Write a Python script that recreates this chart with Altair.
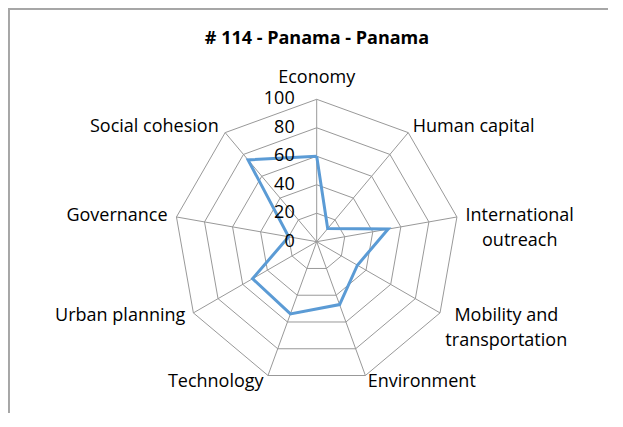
import altair as alt
import pandas as pd

# ---- data ----
categories = ["Economy", "Human capital", "International\noutreach",
              "Mobility and\ntransportation", "Environment", "Technology",
              "Urban planning", "Governance", "Social cohesion"]
scores = [60, 12, 51, 33, 47, 54, 52, 20, 75]
tick_values = [0, 20, 40, 60, 80, 100]
ring_levels = [20, 40, 60, 80, 100]
title_text = "# 114 - Panama - Panama"

# ---- layout ----
W, H = 600, 405
CX, CY = 308.7, 233.7     # radar centre inside plot area (px)
R = 142.4                 # radius of the 100 ring (px)
PPU = R / 100.0
FONT = "Open Sans"
GRID = "#999999"

n = len(categories)
xscale = alt.Scale(domain=[-CX / PPU, (W - CX) / PPU], nice=False, zero=False)
yscale = alt.Scale(domain=[-(H - CY) / PPU, CY / PPU], nice=False, zero=False)
X = lambda f: alt.X(f, scale=xscale, axis=None)
Y = lambda f: alt.Y(f, scale=yscale, axis=None)

ANG = f"datum.idx * 2 * PI / {n}"

series_df = pd.DataFrame({
    "idx": [i % n for i in range(n + 1)],
    "order": list(range(n + 1)),
    "value": [scores[i % n] for i in range(n + 1)],
})
rings_df = pd.DataFrame([
    {"idx": k % n, "order": k, "level": lv}
    for lv in ring_levels for k in range(n + 1)
])
spokes_df = pd.DataFrame({"idx": list(range(n)), "level": [100] * n})
labels_df = pd.DataFrame({
    "idx": list(range(n)),
    "label": categories,
    "nlines": [c.count("\n") + 1 for c in categories],
    "maxlen": [max(len(p) for p in c.split("\n")) for c in categories],
})
ticks_df = pd.DataFrame({"value": tick_values})

rings = alt.Chart(rings_df).transform_calculate(
    a=ANG
).transform_calculate(
    x="datum.level * sin(datum.a)", y="datum.level * cos(datum.a)"
).mark_line(color=GRID, strokeWidth=1).encode(
    x=X("x:Q"), y=Y("y:Q"), detail="level:N", order="order:O"
)

spokes = alt.Chart(spokes_df).transform_calculate(
    a=ANG
).transform_calculate(
    x="datum.level * sin(datum.a)", y="datum.level * cos(datum.a)", z="0"
).mark_rule(color=GRID, strokeWidth=1).encode(
    x=X("z:Q"), y=Y("z:Q"), x2="x:Q", y2="y:Q"
)

series = alt.Chart(series_df).transform_calculate(
    a=ANG
).transform_calculate(
    x="datum.value * sin(datum.a)", y="datum.value * cos(datum.a)"
).mark_line(color="#5B9BD5", strokeWidth=3, strokeJoin="miter").encode(
    x=X("x:Q"), y=Y("y:Q"), order="order:O"
)

ticks = alt.Chart(ticks_df).transform_calculate(
    z="0"
).mark_text(font=FONT, fontSize=18, color="#000000", align="right",
            baseline="middle", dx=-22).encode(
    x=X("z:Q"), y=Y("value:Q"), text="value:Q"
)

LR = 100 + 7 / PPU
lab_base = alt.Chart(labels_df).transform_calculate(
    a=ANG
).transform_calculate(
    s="sin(datum.a)",
    lx=f"{LR} * sin(datum.a)", ly=f"{LR} * cos(datum.a)"
)
txt = dict(font=FONT, fontSize=18, color="#000000", baseline="middle")

lab_left = lab_base.transform_filter(
    "datum.s > 0.1 && datum.nlines == 1"
).mark_text(align="left", **txt).encode(x=X("lx:Q"), y=Y("ly:Q"), text="label:N")

lab_right = lab_base.transform_filter(
    "datum.s < -0.1 && datum.nlines == 1"
).mark_text(align="right", dx=-2, **txt).encode(x=X("lx:Q"), y=Y("ly:Q"), text="label:N")

lab_top = lab_base.transform_filter(
    "abs(datum.s) <= 0.1"
).mark_text(align="center", dy=-14, **txt).encode(x=X("lx:Q"), y=Y("ly:Q"), text="label:N")

lab_multi = lab_base.transform_filter(
    "datum.nlines > 1"
).transform_calculate(
    mx=f"datum.lx + (datum.s > 0 ? 1 : -1) * datum.maxlen * 4.3 / {PPU}"
).mark_text(align="center", lineBreak="\n", lineHeight=25, **txt).encode(
    x=X("mx:Q"), y=Y("ly:Q"), text="label:N"
)

frame_left = alt.Chart(ticks_df).mark_rule(color="#a6a6a6", strokeWidth=1.5).encode(
    x=alt.value(0.7), y=alt.value(0), y2=alt.value(H + 30)
)
frame_top = alt.Chart(ticks_df).mark_rule(color="#a6a6a6", strokeWidth=1.5).encode(
    y=alt.value(0.7), x=alt.value(0), x2=alt.value(W + 30)
)

chart = alt.layer(
    rings, spokes, series, ticks, lab_left, lab_right, lab_top, lab_multi,
    frame_left, frame_top
).properties(
    width=W, height=H, padding=0,
    autosize=alt.AutoSizeParams(type="none"),
    title=alt.TitleParams(text=title_text, font=FONT, fontSize=18,
                          fontWeight="bold", anchor="middle", frame="group",
                          baseline="middle", offset=-50, dx=9, color="#000000"),
).configure_view(strokeWidth=0)

chart.save("out.html", embed_options={"renderer": "svg", "actions": False})
